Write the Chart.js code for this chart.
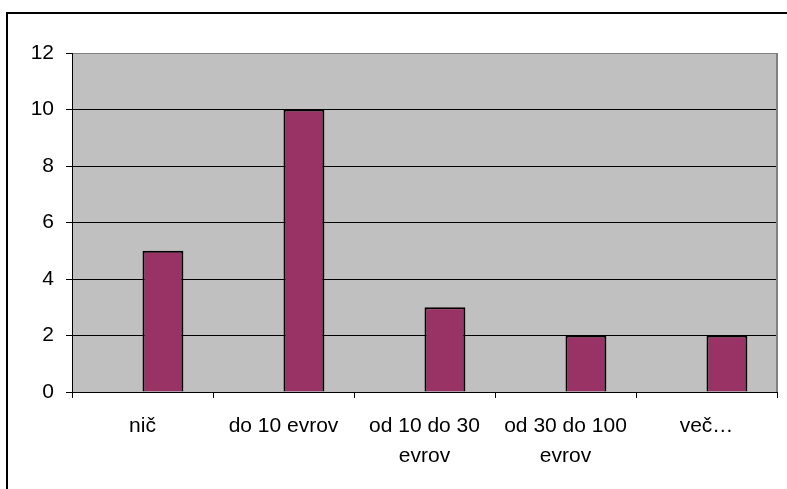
<!DOCTYPE html>
<html>
<head>
    <meta charset="utf-8">
    <script src="https://cdn.jsdelivr.net/npm/chart.js@4"></script>
    <style>
        html, body { margin: 0; padding: 0; background: #ffffff; }
        canvas { display: block; }
    </style>
</head>
<body>
    <canvas id="myChart" width="787" height="489"></canvas>
    <script>
        // podatki
        const labels = ['nič', 'do 10 evrov', ['od 10 do 30', 'evrov'], ['od 30 do 100', 'evrov'], 'več…'];
        const prazno = [null, null, null, null, null];   // prazna serija (zasede prostor v skupini)
        const odgovori = [5, 10, 3, 2, 2];
        const yMin = 0, yMax = 12, yStep = 2;

        Chart.defaults.color = '#000000';
        Chart.defaults.font.family = '"Liberation Sans", Arial, sans-serif';
        Chart.defaults.font.size = 21;

        // okvir, sivo ozadje risalne ploskve in desni rob
        const ozadje = {
            id: 'ozadje',
            beforeDraw(chart) {
                const c = chart.ctx;
                const a = chart.chartArea;
                c.save();
                c.fillStyle = '#ffffff';
                c.fillRect(0, 0, chart.width, chart.height);
                c.lineWidth = 2;
                c.strokeStyle = '#000000';
                c.strokeRect(7, 13, chart.width + 20, chart.height + 20);
                c.fillStyle = '#c0c0c0';
                c.fillRect(a.left, a.top, a.right - a.left, a.bottom - a.top);
                c.restore();
            },
            beforeDatasetsDraw(chart) {
                const c = chart.ctx;
                const a = chart.chartArea;
                c.save();
                c.strokeStyle = '#808080';
                c.lineWidth = 2;
                c.beginPath();
                c.moveTo(a.right, a.top);
                c.lineTo(a.right, a.bottom);
                c.stroke();
                c.restore();
            }
        };

        new Chart(document.getElementById('myChart'), {
            type: 'bar',
            data: {
                labels: labels,
                datasets: [{
                    data: prazno,
                    backgroundColor: '#9999ff',
                    borderColor: '#000000',
                    borderWidth: 2
                }, {
                    data: odgovori,
                    backgroundColor: '#993366',
                    borderColor: '#000000',
                    borderWidth: 2
                }]
            },
            options: {
                responsive: false,
                animation: false,
                devicePixelRatio: 1,
                categoryPercentage: 0.58,
                barPercentage: 1,
                layout: { padding: { top: 53, right: 10, left: 0, bottom: 0 } },
                plugins: {
                    legend: { display: false },
                    tooltip: { enabled: false }
                },
                scales: {
                    x: {
                        afterFit(scale) { scale.height = 97; },
                        grid: {
                            offset: true,
                            drawOnChartArea: false,
                            color: '#000000',
                            tickLength: 6,
                            tickWidth: 1
                        },
                        border: { color: '#000000', width: 1 },
                        ticks: {
                            maxRotation: 0,
                            autoSkip: false,
                            padding: 13,
                            font: { size: 21, lineHeight: 30 / 21 }
                        }
                    },
                    y: {
                        min: yMin,
                        max: yMax,
                        afterFit(scale) { scale.width = 72; },
                        grid: {
                            color: ctx => ctx.tick && ctx.tick.value === yMax ? '#808080' : '#000000',
                            tickColor: '#000000',
                            tickLength: 6
                        },
                        border: { color: '#000000', width: 1 },
                        ticks: {
                            stepSize: yStep,
                            padding: 12,
                            font: { size: 21 }
                        }
                    }
                }
            },
            plugins: [ozadje]
        });
    </script>
</body>
</html>
